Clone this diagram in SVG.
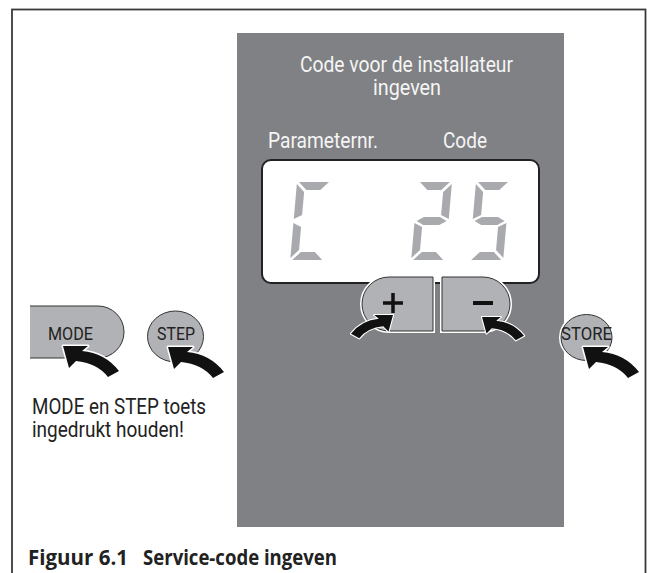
<svg xmlns="http://www.w3.org/2000/svg" width="647" height="573" viewBox="0 0 647 573">
<style>
.t{font-family:"Liberation Sans Narrow","Roboto","Liberation Sans",sans-serif;font-size:22px;}
.w{fill:#f5f5f5;}
.k{fill:#222;}
.bt{font-family:"Liberation Sans Narrow","Roboto","Liberation Sans",sans-serif;font-size:19px;fill:#222;}
.cap{font-family:"Open Sans","Noto Sans","Liberation Sans",sans-serif;font-size:21px;font-weight:bold;fill:#222;}
.btn{fill:#b1b2b5;stroke:#fff;stroke-width:4;paint-order:stroke;}
.btn2{fill:none;stroke:#333;stroke-width:1;}
.seg{fill:#a9aaad;}
.arr{fill:#111;stroke:#fff;stroke-width:3;paint-order:stroke;stroke-linejoin:round;}
</style>
<defs>
<path id="arrow" d="M0,0 L25,0 L19,5 Q42,7 56,25 L45,31 Q34,17 13,15 L6,22 Z"/>
</defs>
<rect x="0" y="0" width="647" height="573" fill="#fff"/>
<rect x="12" y="9.5" width="633.5" height="600" fill="none" stroke="#3a3a3a" stroke-width="1.8"/>
<rect id="panel" x="237" y="33" width="327" height="494" fill="#808184"/>
<g id="title">
<text class="t w" x="300" y="72" textLength="213" lengthAdjust="spacingAndGlyphs">Code voor de installateur</text>
<text class="t w" x="373" y="95" textLength="68" lengthAdjust="spacingAndGlyphs">ingeven</text>
<text class="t w" x="268" y="148" textLength="110" lengthAdjust="spacingAndGlyphs">Parameternr.</text>
<text class="t w" x="443" y="148" textLength="44" lengthAdjust="spacingAndGlyphs">Code</text>
</g>
<g id="display">
<rect x="262" y="160" width="277" height="123" rx="9" fill="#fff" stroke="#222" stroke-width="2"/>
<g class="seg" transform="translate(297,182) skewX(-5)">
<polygon points="2,0 32,0 24,8 10,8"/>
<polygon points="0,2 8,10 8,33 0,37"/>
<polygon points="0,41 8,45 8,68 0,76"/>
<polygon points="2,78 32,78 24,70 10,70"/>
</g>
<g class="seg" transform="translate(418,182) skewX(-5)">
<polygon points="2,0 32,0 24,8 10,8"/>
<polygon points="34,2 26,10 26,33 34,37"/>
<polygon points="2,39 9,35 25,35 32,39 25,43 9,43"/>
<polygon points="0,41 8,45 8,68 0,76"/>
<polygon points="2,78 32,78 24,70 10,70"/>
</g>
<g class="seg" transform="translate(476,182) skewX(-5)">
<polygon points="2,0 32,0 24,8 10,8"/>
<polygon points="0,2 8,10 8,33 0,37"/>
<polygon points="2,39 9,35 25,35 32,39 25,43 9,43"/>
<polygon points="34,41 26,45 26,68 34,76"/>
<polygon points="2,78 32,78 24,70 10,70"/>
</g>
</g>
<g id="plus">
<path class="btn" d="M433,277 L389,277 A27,27 0 0 0 389,331 L433,331 Z"/>
<path class="btn2" d="M433,277 L389,277 A27,27 0 0 0 389,331 L433,331 Z"/>
<path d="M383,303 H403 M393,293 V313" stroke="#111" stroke-width="3.5" fill="none"/>
</g>
<g id="minus">
<path class="btn" d="M442,277 L483,277 A27,27 0 0 1 483,331 L442,331 Z"/>
<path class="btn2" d="M442,277 L483,277 A27,27 0 0 1 483,331 L442,331 Z"/>
<path d="M473,303 H493" stroke="#111" stroke-width="4" fill="none"/>
</g>
<g id="mode">
<path class="btn" d="M30,306 H98 A26,26 0 0 1 98,358 H30 Z"/>
<path class="btn2" d="M30,306 H98 A26,26 0 0 1 98,358 H30"/>
<text class="bt" x="48" y="340" textLength="45" lengthAdjust="spacingAndGlyphs">MODE</text>
</g>
<g id="step">
<ellipse class="btn" cx="175.5" cy="336.5" rx="28" ry="25.5"/>
<ellipse class="btn2" cx="175.5" cy="336.5" rx="28" ry="25.5"/>
<text class="bt" x="157" y="340" textLength="38" lengthAdjust="spacingAndGlyphs">STEP</text>
</g>
<g id="store">
<ellipse class="btn" cx="586.5" cy="337.5" rx="25.5" ry="23"/>
<ellipse class="btn2" cx="586.5" cy="337.5" rx="25.5" ry="23"/>
<text class="bt" x="561" y="340" textLength="51" lengthAdjust="spacingAndGlyphs">STORE</text>
</g>
<g id="connectors">
<use href="#arrow" class="arr" transform="translate(63,346)"/>
<use href="#arrow" class="arr" transform="translate(168,347)"/>
<use href="#arrow" class="arr" transform="translate(583,347)"/>
<use href="#arrow" class="arr" transform="translate(482,317) scale(0.75)"/>
<use href="#arrow" class="arr" transform="translate(393,315) scale(-0.75,0.75)"/>
</g>
<g id="note">
<text class="t k" x="32" y="414" textLength="174" lengthAdjust="spacingAndGlyphs">MODE en STEP toets</text>
<text class="t k" x="32" y="437" textLength="152" lengthAdjust="spacingAndGlyphs">ingedrukt houden!</text>
</g>
<g id="caption">
<text class="cap" x="28" y="565" textLength="100" lengthAdjust="spacingAndGlyphs">Figuur 6.1</text>
<text class="cap" x="143" y="565" textLength="194" lengthAdjust="spacingAndGlyphs">Service-code ingeven</text>
</g>
</svg>
